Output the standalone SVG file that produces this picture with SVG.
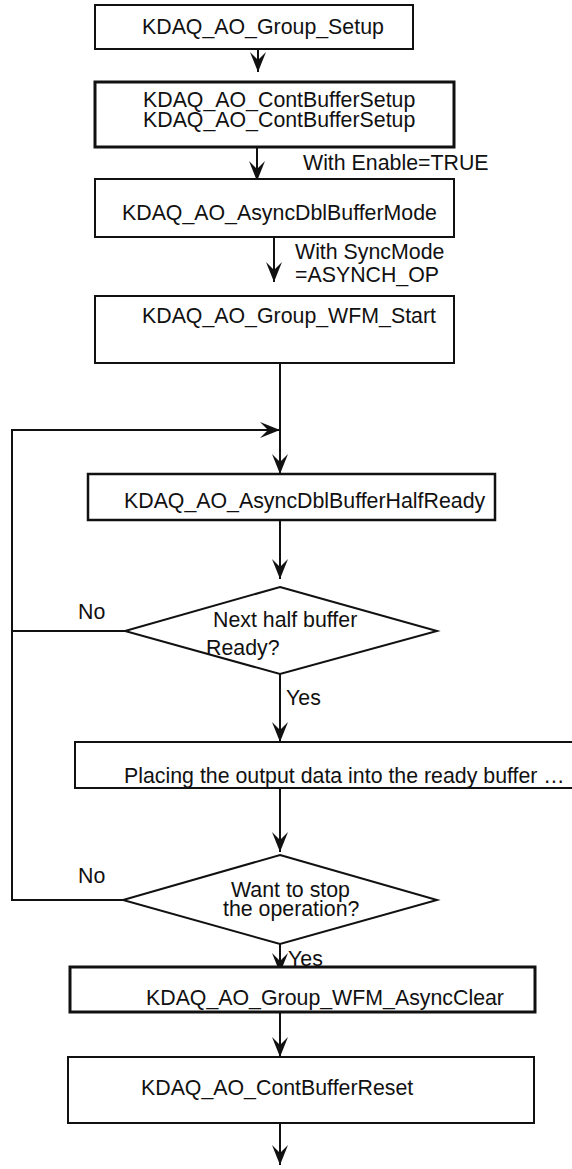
<svg xmlns="http://www.w3.org/2000/svg" width="572" height="1169" viewBox="0 0 572 1169">
<style>
.box{fill:#fff;stroke:#111;stroke-width:2}
.thick{stroke-width:3}
.t{font-family:"Liberation Sans",Arial,sans-serif;font-size:21.33px;fill:#111}
.c{fill:none;stroke:#111;stroke-width:2}
</style>
<defs>
<marker id="ah" viewBox="-21 -9 22 18" refX="0" refY="0" markerWidth="22" markerHeight="18" markerUnits="userSpaceOnUse" orient="auto">
<path d="M0,0 L-20,-8 L-12,0 L-20,8 Z" fill="#111"/>
</marker>
</defs>
<rect width="572" height="1169" fill="#fff"/>
<g id="connectors">
<line class="c" x1="258" y1="49" x2="258" y2="72" marker-end="url(#ah)"/>
<line class="c" x1="257" y1="147" x2="257" y2="181" marker-end="url(#ah)"/>
<line class="c" x1="274" y1="237" x2="274" y2="282" marker-end="url(#ah)"/>
<line class="c" x1="280" y1="363" x2="280" y2="474" marker-end="url(#ah)"/>
<polyline class="c" points="123,900 12,900 12,430 280,430" marker-end="url(#ah)"/>
<line class="c" x1="12" y1="631" x2="125" y2="631"/>
<line class="c" x1="280" y1="520" x2="280" y2="579" marker-end="url(#ah)"/>
<line class="c" x1="280" y1="674" x2="280" y2="742" marker-end="url(#ah)"/>
<line class="c" x1="280" y1="788" x2="280" y2="852" marker-end="url(#ah)"/>
<line class="c" x1="280" y1="944" x2="280" y2="973" marker-end="url(#ah)"/>
<line class="c" x1="280" y1="1012" x2="280" y2="1057" marker-end="url(#ah)"/>
<line class="c" x1="280" y1="1123" x2="280" y2="1165" marker-end="url(#ah)"/>
<text class="t" x="303" y="170">With Enable=TRUE</text>
<text class="t" x="295" y="259">With SyncMode</text>
<text class="t" x="295" y="282">=ASYNCH_OP</text>
<text class="t" x="78" y="619">No</text>
<text class="t" x="286" y="705">Yes</text>
<text class="t" x="78" y="883">No</text>
<text class="t" x="288" y="966">Yes</text>
</g>
<g id="n1"><rect class="box" x="95" y="5" width="318" height="44"/><text class="t" x="142" y="34">KDAQ_AO_Group_Setup</text></g>
<g id="n2"><rect class="box thick" x="95" y="82" width="359" height="65"/><text class="t" x="143" y="107">KDAQ_AO_ContBufferSetup</text><text class="t" x="143" y="127">KDAQ_AO_ContBufferSetup</text></g>
<g id="n3"><rect class="box" x="95" y="179" width="359" height="58"/><text class="t" x="122" y="220">KDAQ_AO_AsyncDblBufferMode</text></g>
<g id="n4"><rect class="box" x="95" y="296" width="359" height="67"/><text class="t" x="142" y="323">KDAQ_AO_Group_WFM_Start</text></g>
<g id="n5"><rect class="box" style="stroke-width:2.5" x="88" y="474" width="407" height="46"/><text class="t" x="124" y="508">KDAQ_AO_AsyncDblBufferHalfReady</text></g>
<g id="d1"><polygon class="box" points="280,587 437,631 280,674 125,631"/><text class="t" x="213" y="627">Next half buffer</text><text class="t" x="206" y="655">Ready?</text></g>
<g id="n6"><rect class="box" x="75" y="742" width="530" height="46"/><text class="t" x="124" y="783">Placing the output data into the ready buffer …</text></g>
<g id="d2"><polygon class="box" points="280,855 437,900 280,944 123,900"/><text class="t" x="231" y="897">Want to stop</text><text class="t" x="223" y="916">the operation?</text></g>
<g id="n7"><rect class="box thick" x="70" y="967" width="465" height="45"/><text class="t" x="146" y="1005">KDAQ_AO_Group_WFM_AsyncClear</text></g>
<g id="n8"><rect class="box" x="68" y="1057" width="466" height="66"/><text class="t" x="141" y="1095">KDAQ_AO_ContBufferReset</text></g>
</svg>
